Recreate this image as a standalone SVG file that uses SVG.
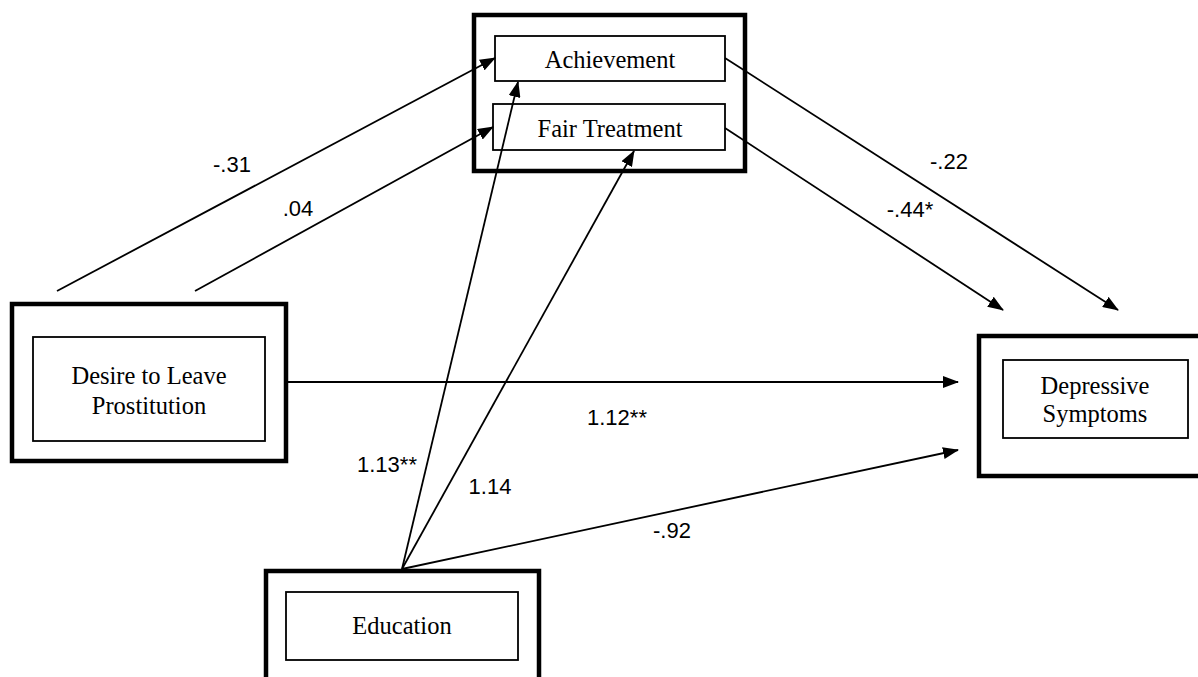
<svg xmlns="http://www.w3.org/2000/svg" width="1198" height="677" viewBox="0 0 1198 677">
<defs>
<marker id="ah" markerWidth="16" markerHeight="12" refX="15" refY="6" orient="auto" markerUnits="userSpaceOnUse">
<path d="M0,0 L16,6 L0,12 Z" fill="#000"/>
</marker>
<style>
.outer{fill:none;stroke:#000;stroke-width:4.5}
.inner{fill:#fff;stroke:#000;stroke-width:1.8}
.lbl{font-family:"Liberation Serif",serif;font-size:24.5px;fill:#000;text-anchor:middle}
.num{font-family:"Liberation Sans",Arial,sans-serif;font-size:22px;fill:#000;text-anchor:middle}
.conn line{stroke:#000;stroke-width:1.8;marker-end:url(#ah)}
</style>
</defs>
<rect width="1198" height="677" fill="#fff"/>
<g id="mediators">
<rect class="outer" x="474" y="15" width="271" height="156"/>
</g>
<g id="achievement">
<rect class="inner" x="495" y="36" width="230" height="45"/>
<text class="lbl" x="610" y="68">Achievement</text>
</g>
<g id="fair-treatment">
<rect class="inner" x="493" y="104" width="232" height="46"/>
<text class="lbl" x="610" y="137">Fair Treatment</text>
</g>
<g id="desire">
<rect class="outer" x="12" y="304" width="274" height="157"/>
<rect class="inner" x="33" y="337" width="232" height="104"/>
<text class="lbl" x="149" y="384">Desire to Leave</text>
<text class="lbl" x="149" y="414">Prostitution</text>
</g>
<g id="depressive">
<rect class="outer" x="979" y="336" width="222" height="140"/>
<rect class="inner" x="1003" y="360" width="185" height="78"/>
<text class="lbl" x="1095" y="394">Depressive</text>
<text class="lbl" x="1095" y="422">Symptoms</text>
</g>
<g id="education">
<rect class="outer" x="266" y="571" width="273" height="120"/>
<rect class="inner" x="286" y="592" width="232" height="68"/>
<text class="lbl" x="402" y="634">Education</text>
</g>
<g class="conn" id="connectors">
<line x1="57" y1="291" x2="495" y2="58"/>
<line x1="195" y1="291" x2="493" y2="127"/>
<line x1="725" y1="58" x2="1118" y2="310"/>
<line x1="725" y1="128" x2="1003" y2="310"/>
<line x1="287" y1="382" x2="958" y2="382"/>
<line x1="402" y1="569" x2="518" y2="82"/>
<line x1="402" y1="569" x2="634" y2="151"/>
<line x1="402" y1="569" x2="958" y2="450"/>
</g>
<g id="labels">
<text class="num" x="232" y="172">-.31</text>
<text class="num" x="298" y="216">.04</text>
<text class="num" x="949" y="169">-.22</text>
<text class="num" x="910" y="217">-.44*</text>
<text class="num" x="617" y="425">1.12**</text>
<text class="num" x="387" y="472">1.13**</text>
<text class="num" x="490" y="494">1.14</text>
<text class="num" x="672" y="538">-.92</text>
</g>
</svg>
